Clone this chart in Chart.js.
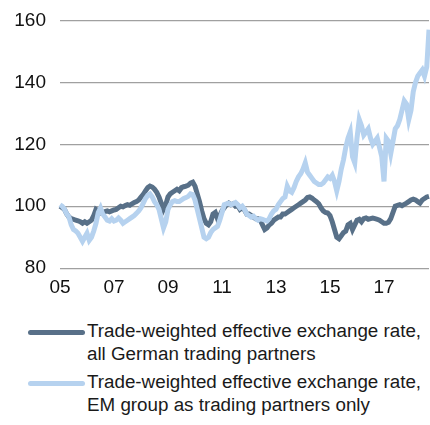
<!DOCTYPE html>
<html>
<head>
<meta charset="utf-8">
<script src="https://cdn.jsdelivr.net/npm/chart.js@4/dist/chart.umd.min.js"></script>
<style>
  body { margin: 0; background: #fff; font-family: "Liberation Sans", Arial, sans-serif; }
  #wrap { position: absolute; left: 0; top: -5px; width: 430px; height: 304px; }
  .item { position: absolute; left: 0; width: 430px; }
  .swatch { position: absolute; left: 28px; width: 57px; height: 5px; border-radius: 2.5px; }
  .txt { position: absolute; left: 87px; font-size: 18.8px; line-height: 23px; color: #1a1a1a; white-space: nowrap; }
</style>
</head>
<body>
<div id="wrap"><canvas id="chart"></canvas></div>
<div class="item" style="top:319px">
  <div class="swatch" style="top:11px;background:#587088"></div>
  <div class="txt">Trade-weighted effective exchange rate,<br>all German trading partners</div>
</div>
<div class="item" style="top:370px">
  <div class="swatch" style="top:11px;background:#b6d2ef"></div>
  <div class="txt">Trade-weighted effective exchange rate,<br>EM group as trading partners only</div>
</div>
<script>
// monthly index, Jan 2005 - Sep 2018
const firstYear = 2005;
const lastYear = 2018;
const lastMonth = 9;

const germanAll = [
  100, 99.5, 99, 97.5, 96.5, 96, 95.8, 95.5, 95.3, 95, 94.5, 95,           // 2005
  94.5, 95, 95.5, 97, 99, 98.5, 97.8, 98, 98.3, 98.5, 98.2, 98.5,         // 2006
  98.8, 99, 99.5, 100, 99.8, 100.2, 100.5, 100.3, 100.8, 101.2, 101.5, 102, // 2007
  103, 103.8, 105, 106, 106.5, 106.2, 105.5, 104.5, 103, 101, 99, 100.5,  // 2008
  103, 104, 104.5, 105, 105.5, 105, 106, 106.3, 106.5, 106.8, 107.5, 107.8, // 2009
  106.5, 104, 101.5, 98.5, 96, 94.5, 94, 95, 97.5, 98, 96, 97,            // 2010
  98.5, 99.5, 100.5, 101, 100.5, 100.8, 100, 100.2, 99, 99.5, 98.8, 97.5, // 2011
  97.5, 97, 96.5, 96, 96, 95.5, 94, 92.5, 93, 94, 94.5, 95.5,             // 2012
  96, 96.5, 96.5, 97.5, 97.5, 98, 98.5, 99, 99.5, 100, 100.5, 101,        // 2013
  101.5, 102, 102.8, 103, 102.6, 102, 101.5, 100.8, 99.5, 98.5, 98, 97.8, // 2014
  97, 95, 92.5, 90, 89.5, 90.5, 91.5, 92, 94, 94.5, 92.5, 94,             // 2015
  95.5, 95.8, 95, 96, 96.2, 95.8, 96, 96.2, 96, 95.8, 95.5, 95,           // 2016
  94.5, 94.5, 94.8, 96, 98, 100, 100.3, 100.5, 100.2, 100.6, 101, 101.5,  // 2017
  102, 102.3, 102, 101.5, 101, 102, 102.5, 103, 103.2                     // 2018
];

const emGroup = [
  100.5, 100, 99, 97.5, 96.5, 94, 92.5, 92, 91.3, 90, 88.7, 90,           // 2005
  91.3, 89, 90, 92, 94.5, 98, 99.5, 97.5, 96.5, 95.5, 95.2, 96,           // 2006
  95.2, 95.5, 96.2, 95.5, 94.5, 95, 95.5, 96, 96.5, 97, 97.7, 98.5,       // 2007
  99.5, 101, 102.5, 103.5, 104, 103, 101.5, 100.5, 99, 96, 93, 95,        // 2008
  99, 100.5, 101.5, 101.8, 101.5, 101.5, 102, 102.5, 102.8, 103.2, 104, 103.8, // 2009
  102, 99, 96, 93, 90, 89.5, 90, 91.5, 92.5, 93, 93.5, 95.5,              // 2010
  98, 100.5, 100.8, 101, 100.5, 100.8, 101.2, 100.5, 99.5, 100, 99, 97.5, // 2011
  97, 96.5, 96.8, 96, 95.5, 96, 95.8, 95.5, 95.2, 96, 97.5, 98.5,         // 2012
  99, 100.5, 101.5, 102.5, 103, 106.5, 105, 104.5, 106, 108, 109.5, 110.5, // 2013
  112, 114, 111, 110, 109, 108, 107.5, 107, 107, 107.5, 108.5, 109.5,     // 2014
  109, 110, 108, 105, 108, 112, 115, 119, 122, 124, 116, 114,             // 2015
  122, 128, 126, 123, 124, 125, 122, 120, 121, 122, 119, 116,             // 2016
  108, 122, 121, 117, 121, 125, 126, 128, 131, 134, 133, 128,             // 2017
  131, 137, 140, 142, 143, 144, 142, 145, 157                             // 2018
];

const yTicks = [80, 100, 120, 140, 160];

const months = [];
for (let y = firstYear; y <= lastYear; y++) {
  for (let m = 1; m <= 12; m++) {
    if (y === lastYear && m > lastMonth) break;
    months.push(y + '-' + String(m).padStart(2, '0'));
  }
}

new Chart(document.getElementById('chart'), {
  type: 'line',
  data: {
    labels: months,
    datasets: [
      {
        label: 'Trade-weighted effective exchange rate, all German trading partners',
        data: germanAll,
        borderColor: '#587088',
        borderWidth: 5,
        pointRadius: 0,
        tension: 0,
        order: 1
      },
      {
        label: 'Trade-weighted effective exchange rate, EM group as trading partners only',
        data: emGroup,
        borderColor: '#b6d2ef',
        borderWidth: 5,
        pointRadius: 0,
        tension: 0,
        order: 0
      }
    ]
  },
  options: {
    responsive: true,
    maintainAspectRatio: false,
    animation: false,
    layout: { padding: { top: 2, right: 1, left: 0, bottom: 0 } },
    plugins: { legend: { display: false }, tooltip: { enabled: false } },
    scales: {
      x: {
        grid: { display: false },
        border: { display: false },
        ticks: {
          autoSkip: false,
          maxRotation: 0,
          color: '#111',
          font: { family: '"Liberation Sans", Arial', size: 19 },
          padding: 0,
          callback: function(val, i) {
            const lab = months[i];
            const yr = parseInt(lab.slice(0, 4));
            if (lab.slice(5) === '01' && yr % 2 === 1) return lab.slice(2, 4);
            return null;
          }
        }
      },
      y: {
        min: 80,
        max: 160,
        afterBuildTicks: function(scale) { scale.ticks = yTicks.map(v => ({ value: v })); },
        afterFit: function(scale) { scale.width = 60; },
        grid: { color: '#a0a0a0', lineWidth: 1.2, drawTicks: false },
        border: { display: false },
        ticks: {
          color: '#111',
          font: { family: '"Liberation Sans", Arial', size: 19 },
          padding: 14
        }
      }
    }
  }
});
</script>
</body>
</html>
